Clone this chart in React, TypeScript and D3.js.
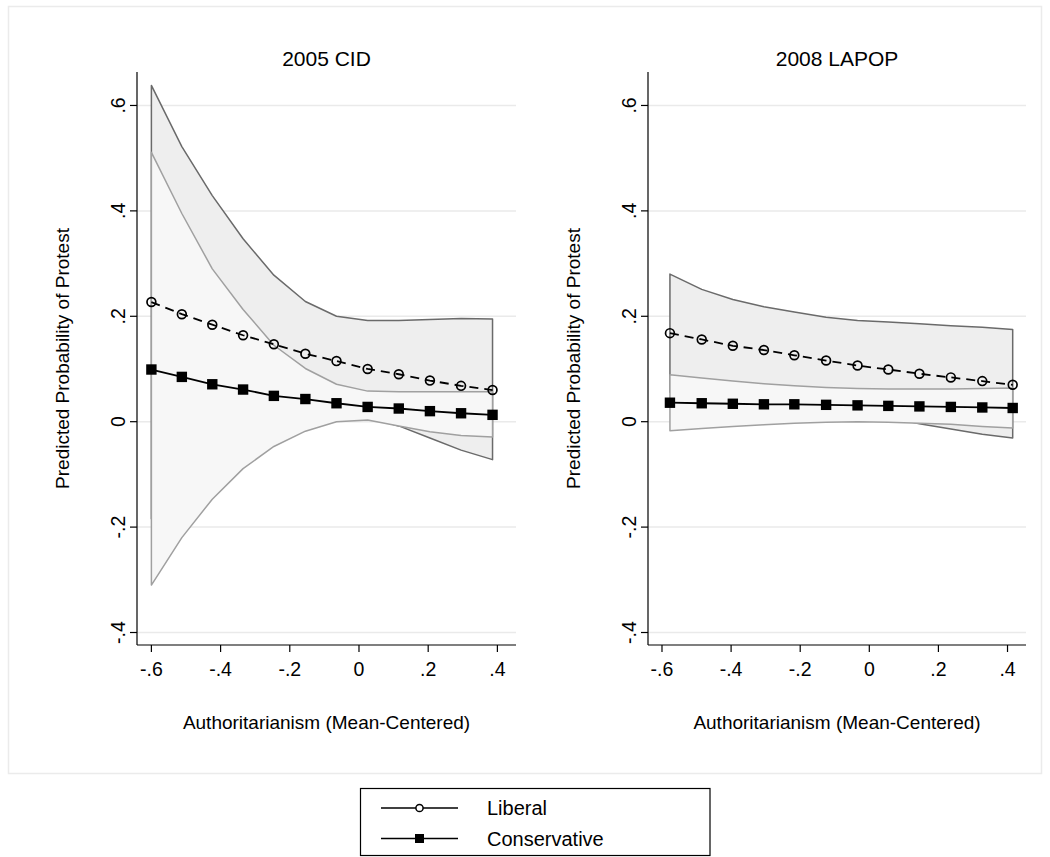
import React from "react";
import * as d3 from "d3";

// ---------- data ----------
const panelTitles = ["2005 CID", "2008 LAPOP"];
const seriesNames = ["Liberal", "Conservative"];
const xTicks = [-0.6, -0.4, -0.2, 0, 0.2, 0.4];
const yTicks = [-0.4, -0.2, 0, 0.2, 0.4, 0.6];
const fmt = (v: number) => (v === 0 ? "0" : (v < 0 ? "-" : "") + String(Math.abs(v)).replace(/^0/, ""));

// 2005 CID
const cidX = [-0.6, -0.512, -0.424, -0.335, -0.246, -0.155, -0.065, 0.025, 0.115, 0.205, 0.295, 0.386];
const cidLib = [0.227, 0.204, 0.184, 0.164, 0.147, 0.129, 0.115, 0.1, 0.09, 0.078, 0.068, 0.06];
const cidLibHi = [0.638, 0.522, 0.429, 0.347, 0.278, 0.228, 0.2, 0.192, 0.192, 0.194, 0.196, 0.195];
const cidLibLo = [-0.184, -0.114, -0.061, -0.019, 0.016, 0.03, 0.03, 0.008, -0.008, -0.031, -0.054, -0.072];
const cidCon = [0.099, 0.085, 0.071, 0.061, 0.049, 0.043, 0.035, 0.028, 0.025, 0.02, 0.016, 0.013];
const cidConHi = [0.511, 0.395, 0.29, 0.213, 0.145, 0.101, 0.071, 0.058, 0.057, 0.057, 0.057, 0.057];
const cidConLo = [-0.31, -0.22, -0.147, -0.089, -0.047, -0.018, 0.0, 0.003, -0.008, -0.019, -0.026, -0.029];

// 2008 LAPOP
const lapopX = [-0.577, -0.485, -0.395, -0.305, -0.217, -0.125, -0.034, 0.055, 0.145, 0.236, 0.327, 0.415];
const lapopLib = [0.168, 0.156, 0.144, 0.136, 0.126, 0.116, 0.1065, 0.099, 0.091, 0.084, 0.077, 0.07];
const lapopLibHi = [0.28, 0.251, 0.232, 0.218, 0.208, 0.198, 0.192, 0.189, 0.186, 0.182, 0.179, 0.175];
const lapopLibLo = [0.056, 0.061, 0.056, 0.054, 0.044, 0.034, 0.021, 0.009, -0.004, -0.014, -0.024, -0.031];
const lapopCon = [0.036, 0.035, 0.034, 0.033, 0.033, 0.032, 0.031, 0.03, 0.029, 0.028, 0.027, 0.026];
const lapopConHi = [0.089, 0.083, 0.077, 0.072, 0.068, 0.065, 0.063, 0.062, 0.062, 0.062, 0.063, 0.064];
const lapopConLo = [-0.017, -0.013, -0.009, -0.006, -0.003, -0.001, 0.0, -0.001, -0.003, -0.005, -0.009, -0.012];

const panels = [
  { title: panelTitles[0], x: cidX, lib: cidLib, libHi: cidLibHi, libLo: cidLibLo, con: cidCon, conHi: cidConHi, conLo: cidConLo },
  { title: panelTitles[1], x: lapopX, lib: lapopLib, libHi: lapopLibHi, libLo: lapopLibLo, con: lapopCon, conHi: lapopConHi, conLo: lapopConLo },
];

const FONT = "'Liberation Sans', Arial, Helvetica, sans-serif";

const layout = [
  { left: 137, right: 516, xDomain: [-0.6416, 0.4538] },
  { left: 648, right: 1026, xDomain: [-0.6405, 0.4535] },
];
const TOP = 72;
const BOTTOM = 645;
const yDomain = [-0.4237, 0.6635];

function Panel({ p, l }: { p: any; l: any }) {
  const x = d3.scaleLinear().domain(l.xDomain).range([l.left, l.right]);
  const y = d3.scaleLinear().domain(yDomain).range([BOTTOM, TOP]);
  const idx = d3.range(p.x.length);
  const area = (hi: number[], lo: number[]) =>
    d3.area<number>().x((i) => x(p.x[i])).y0((i) => y(lo[i])).y1((i) => y(hi[i]))(idx) as string;
  const line = (v: number[]) => d3.line<number>().x((i) => x(p.x[i])).y((i) => y(v[i]))(idx) as string;
  const cx = (l.left + l.right) / 2;
  const cy = (TOP + BOTTOM) / 2;
  const axisX = l.left;
  return (
    <g>
      {yTicks.map((t) => (
        <line key={"g" + t} x1={axisX} x2={l.right} y1={y(t)} y2={y(t)} stroke="#eaeaea" strokeWidth={1.5} />
      ))}
      <path d={area(p.libHi, p.libLo)} fill="#eeeeee" stroke="#6a6a6a" strokeWidth={1.5} strokeLinejoin="round" />
      <path d={area(p.conHi, p.conLo)} fill="#f7f7f7" stroke="#a0a0a0" strokeWidth={1.5} strokeLinejoin="round" />
      <path d={line(p.con)} fill="none" stroke="#000" strokeWidth={1.8} />
      {idx.map((i) => (
        <rect key={"s" + i} x={x(p.x[i]) - 5.2} y={y(p.con[i]) - 5.2} width={10.4} height={10.4} fill="#000" />
      ))}
      <path d={line(p.lib)} fill="none" stroke="#000" strokeWidth={1.8} strokeDasharray="9,6" />
      {idx.map((i) => (
        <circle key={"c" + i} cx={x(p.x[i])} cy={y(p.lib[i])} r={4.4} fill="none" stroke="#000" strokeWidth={1.7} />
      ))}
      {/* axes */}
      <line x1={axisX} x2={axisX} y1={TOP} y2={BOTTOM} stroke="#000" strokeWidth={1.2} />
      <line x1={axisX} x2={l.right} y1={BOTTOM} y2={BOTTOM} stroke="#000" strokeWidth={1.2} />
      {yTicks.map((t) => (
        <g key={"yt" + t}>
          <line x1={axisX - 7} x2={axisX} y1={y(t)} y2={y(t)} stroke="#000" strokeWidth={1.2} />
          <text
            transform={`translate(${axisX - 12},${y(t)}) rotate(-90)`}
            textAnchor="middle"
            fontSize={19.5}
            fontFamily={FONT}
          >
            {fmt(t)}
          </text>
        </g>
      ))}
      {xTicks.map((t) => (
        <g key={"xt" + t}>
          <line x1={x(t)} x2={x(t)} y1={BOTTOM} y2={BOTTOM + 7} stroke="#000" strokeWidth={1.2} />
          <text x={x(t)} y={676} textAnchor="middle" fontSize={19.5} fontFamily={FONT}>
            {fmt(t)}
          </text>
        </g>
      ))}
      <text x={cx} y={66} textAnchor="middle" fontSize={21} fontFamily={FONT}>
        {p.title}
      </text>
      <text x={cx} y={729} textAnchor="middle" fontSize={19} fontFamily={FONT}>
        Authoritarianism (Mean-Centered)
      </text>
      <text
        transform={`translate(${axisX - 68},${cy}) rotate(-90)`}
        textAnchor="middle"
        fontSize={19}
        fontFamily={FONT}
      >
        Predicted Probability of Protest
      </text>
    </g>
  );
}

export default function App() {
  return (
    <svg
      width={1050}
      height={857}
      style={{ position: "absolute", left: 0, top: 0, background: "#fff" }}
    >
      <rect x={0} y={0} width={1050} height={857} fill="#fff" />
      <rect x={8.5} y={6.5} width={1033} height={767} fill="none" stroke="#ebebeb" strokeWidth={1.5} />
      {panels.map((p, k) => (
        <Panel key={k} p={p} l={layout[k]} />
      ))}
      {/* legend */}
      <rect x={360.5} y={788.5} width={349.5} height={67} fill="#fff" stroke="#000" strokeWidth={1.2} />
      {seriesNames.map((name, k) => {
        const ly = 808 + k * 30.5;
        return (
          <g key={name}>
            <line x1={381} x2={458} y1={ly} y2={ly} stroke="#000" strokeWidth={1.5} />
            {k === 0 ? (
              <circle cx={419.5} cy={ly} r={3.6} fill="#fff" stroke="#000" strokeWidth={1.5} />
            ) : (
              <rect x={415} y={ly - 4.5} width={9} height={9} fill="#000" />
            )}
            <text x={487} y={ly + 7} fontSize={20} fontFamily={FONT}>
              {name}
            </text>
          </g>
        );
      })}
    </svg>
  );
}
